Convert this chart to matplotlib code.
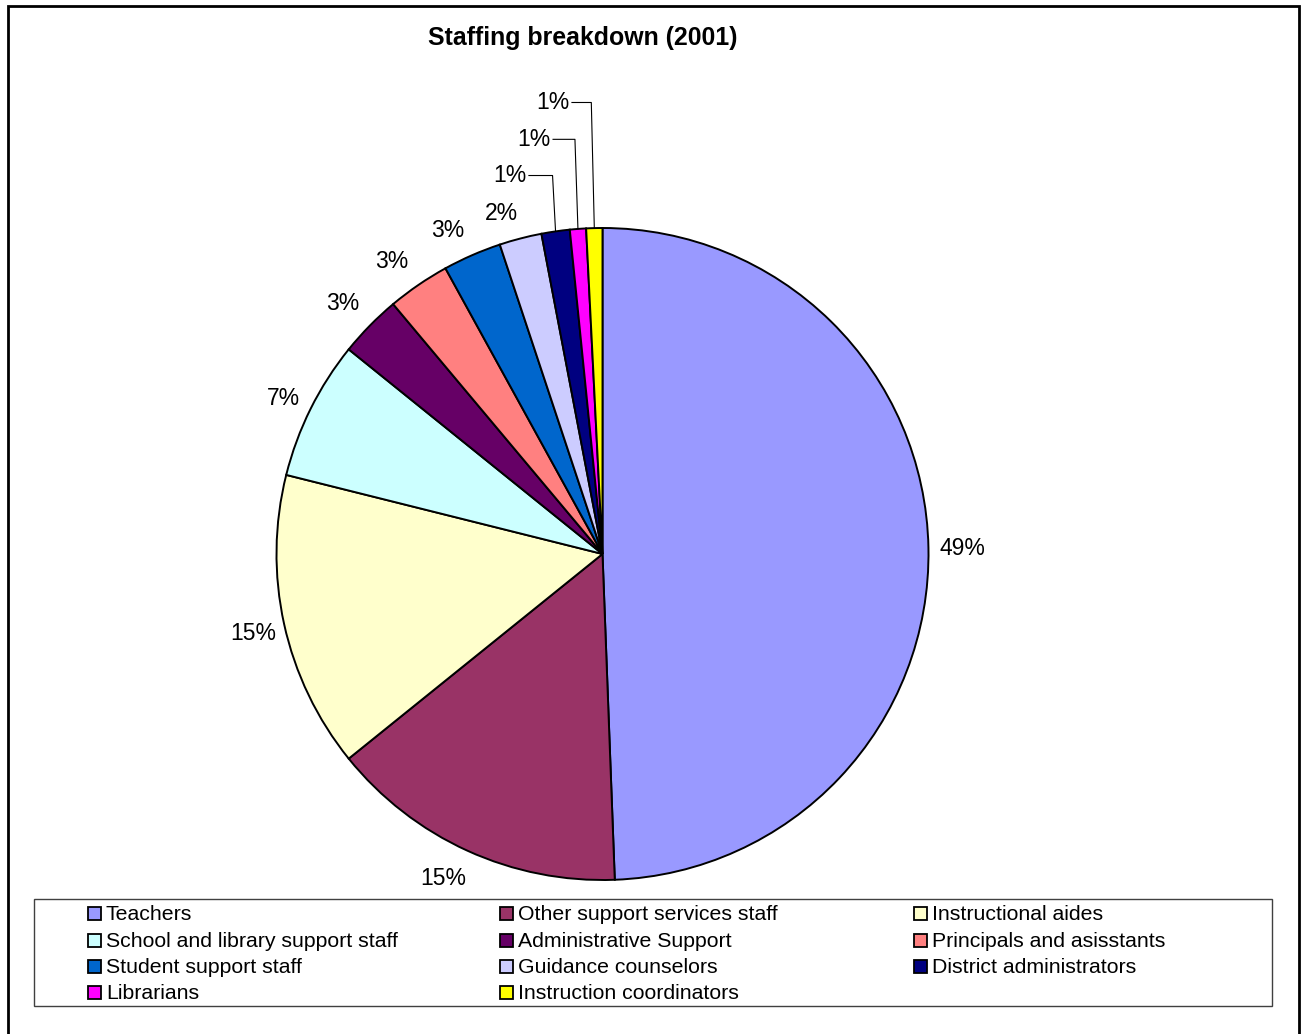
import matplotlib
matplotlib.use("Agg")
import matplotlib.pyplot as plt
from matplotlib.patches import Rectangle
import numpy as np

plt.rcParams['font.family'] = ['Liberation Sans', 'DejaVu Sans']

# Staffing shares (percent of total staff)
categories = [
    "Teachers",
    "Other support services staff",
    "Instructional aides",
    "School and library support staff",
    "Administrative Support",
    "Principals and asisstants",
    "Student support staff",
    "Guidance counselors",
    "District administrators",
    "Librarians",
    "Instruction coordinators",
]
shares = [49.4, 14.8, 14.7, 6.9, 3.1, 3.1, 2.9, 2.1, 1.4, 0.8, 0.8]
colors = ["#9999FF", "#993366", "#FFFFCC", "#CCFFFF", "#660066", "#FF8080",
          "#0066CC", "#CCCCFF", "#000080", "#FF00FF", "#FFFF00"]
title = "Staffing breakdown (2001)"

W, H = 1302, 1034
fig = plt.figure(figsize=(W / 100, H / 100), dpi=100)
fig.patch.set_facecolor("white")

# pie axes: centre (602.5, 554) px, radius 326 px
cx, cy, R = 602.5, 554, 326
ax = fig.add_axes([(cx - R) / W, (H - cy - R) / H, 2 * R / W, 2 * R / H])

wedges, texts, autotexts = ax.pie(
    shares, colors=colors, startangle=90, counterclock=False, radius=1.0,
    autopct="%1.0f%%", pctdistance=1.10,
    wedgeprops=dict(edgecolor="black", linewidth=1.4),
    textprops=dict(fontsize=16.5, color="black"),
)
ax.set_xlim(-1, 1)
ax.set_ylim(-1, 1)
ax.set_aspect("equal")
ax.axis("off")
for w in wedges:
    w.set_clip_on(False)

px = 1.0 / R
# small pixel nudges for the outside labels (x right, y up)
label_nudge = [(1, -1), (-11, 2), (1, -2), (2, -4), (-4, -1), (-8, -3.5),
               (-11, -5), (-11, -7)]
for t, (dx, dy) in zip(autotexts, label_nudge):
    x, y = t.get_position()
    t.set_position((x + dx * px, y + dy * px))
for t in autotexts:
    t.set_clip_on(False)

# the three smallest slices get labels lifted above the pie with leader lines
lifted = {8: (-0.284, 1.161), 9: (-0.210, 1.272), 10: (-0.152, 1.385)}
for idx, (lx, ly) in lifted.items():
    t = autotexts[idx]
    t.set_position((lx, ly))
    w = wedges[idx]
    mid = np.deg2rad((w.theta1 + w.theta2) / 2)
    ex, ey = np.cos(mid), np.sin(mid)
    ax.plot([lx + 19 * px, ex - 3 * px, ex], [ly, ly, ey],
            color="black", linewidth=0.8, clip_on=False)

fig.text(583 / W, 1 - 38 / H, title, ha="center", va="center",
         fontsize=17.9, fontweight="bold")

# legend box with three columns, filled row by row
fig.patches.append(Rectangle((34 / W, 1 - 1006 / H), (1272 - 34) / W, (1006 - 899) / H,
                             transform=fig.transFigure, facecolor="white",
                             edgecolor="#404040", linewidth=1.0))
col_x = [88, 500, 914]
row_y = [913, 940, 966, 992]
sq = 13
for i, (name, col) in enumerate(zip(categories, colors)):
    r, c = divmod(i, 3)
    x0, y0 = col_x[c], row_y[r]
    fig.patches.append(Rectangle((x0 / W, 1 - (y0 + sq / 2) / H), sq / W, sq / H,
                                 transform=fig.transFigure, facecolor=col,
                                 edgecolor="black", linewidth=1.3))
    fig.text((x0 + sq + 5) / W, 1 - (y0 + 1.5) / H, name, ha="left", va="center",
             fontsize=15.3)

# outer chart frame
fig.patches.append(Rectangle((8 / W, -0.02), (1299 - 8) / W, 1 - 6 / H + 0.02,
                             transform=fig.transFigure, facecolor="none",
                             edgecolor="black", linewidth=2.0))

fig.savefig("out.png", dpi=100)
